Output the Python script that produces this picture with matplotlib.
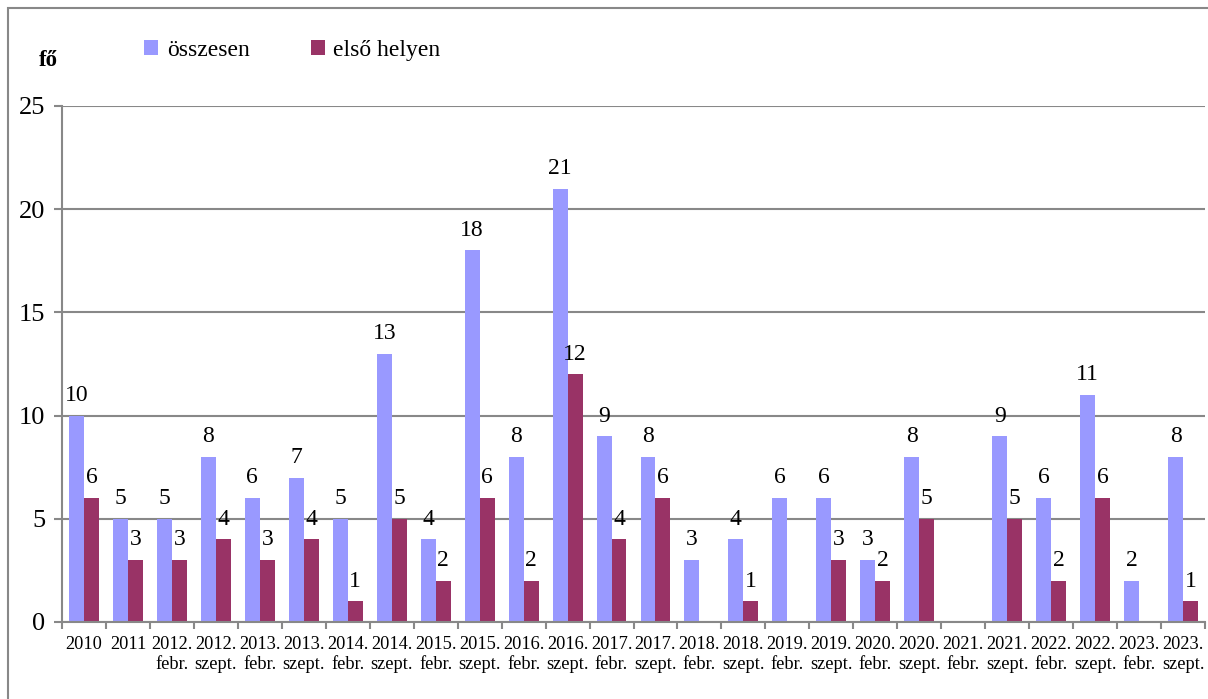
import matplotlib.pyplot as plt
import matplotlib.patches as mpatches
import numpy as np

plt.rcParams['font.family'] = ['Liberation Serif', 'DejaVu Serif']

### Data
categories = ['2010', '2011',
              '2012.\nfebr.', '2012.\nszept.', '2013.\nfebr.', '2013.\nszept.',
              '2014.\nfebr.', '2014.\nszept.', '2015.\nfebr.', '2015.\nszept.',
              '2016.\nfebr.', '2016.\nszept.', '2017.\nfebr.', '2017.\nszept.',
              '2018.\nfebr.', '2018.\nszept.', '2019.\nfebr.', '2019.\nszept.',
              '2020.\nfebr.', '2020.\nszept.', '2021.\nfebr.', '2021.\nszept.',
              '2022.\nfebr.', '2022.\nszept.', '2023.\nfebr.', '2023.\nszept.']
osszesen = [10, 5, 5, 8, 6, 7, 5, 13, 4, 18, 8, 21, 9, 8, 3, 4, 6, 6, 3, 8, 0, 9, 6, 11, 2, 8]
elso_helyen = [6, 3, 3, 4, 3, 4, 1, 5, 2, 6, 2, 12, 4, 6, 0, 1, 0, 3, 2, 5, 0, 5, 2, 6, 0, 1]

c_total = '#9999FF'
c_first = '#993366'
grey = '#888888'

fig = plt.figure(figsize=(12.08, 6.99), dpi=100)
ax = fig.add_axes([62 / 1208, 1 - 622 / 699, (1205 - 62) / 1208, (622 - 106) / 699])

# outer frame of the chart area
fig.patches.append(mpatches.Rectangle((8 / 1208, -0.05), 1.2, 1 - 8 / 699 + 0.05,
                                      transform=fig.transFigure, fill=False,
                                      edgecolor=grey, linewidth=1.5))

x = np.arange(len(categories))
w = 0.34
b1 = ax.bar(x - w / 2, osszesen, w, color=c_total, label='összesen')
b2 = ax.bar(x + w / 2, elso_helyen, w, color=c_first, label='első helyen')

# value labels, zeros left unlabeled
for bars, vals in ((b1, osszesen), (b2, elso_helyen)):
    for rect, v in zip(bars, vals):
        if v:
            ax.annotate(str(v), (rect.get_x() + rect.get_width() / 2, v),
                        xytext=(0, 7), textcoords='offset points',
                        ha='center', va='bottom', fontsize=17)

ax.set_xlim(-0.5, len(categories) - 0.5)
ax.set_ylim(0, 25)
ax.set_yticks(range(0, 26, 5))
ax.yaxis.grid(True, color=grey, linewidth=1.5)
ax.set_axisbelow(True)

ax.set_xticks(x)
ax.set_xticklabels(categories, fontsize=13.2, linespacing=1.25)
ax.set_xticks(np.arange(-0.5, len(categories)), minor=True)
ax.tick_params(axis='x', which='major', length=0, pad=10)
ax.tick_params(axis='x', which='minor', length=5, color=grey, width=1.5)
ax.tick_params(axis='y', length=6, color=grey, width=1.5, labelsize=19, pad=6)

for s in ('top', 'right'):
    ax.spines[s].set_visible(False)
for s in ('left', 'bottom'):
    ax.spines[s].set_color(grey)
    ax.spines[s].set_linewidth(1.5)

fig.text(39 / 1208, 1 - 60 / 699, 'fő', fontsize=16.5, fontweight='bold', va='center')

ax.legend(loc='upper left', bbox_to_anchor=(61 / 1143, 1 + 87 / 516), ncol=2,
          frameon=False, fontsize=17, handlelength=0.6, handleheight=0.6,
          handletextpad=0.35, columnspacing=2.6)

plt.savefig('out.png', dpi=100)
